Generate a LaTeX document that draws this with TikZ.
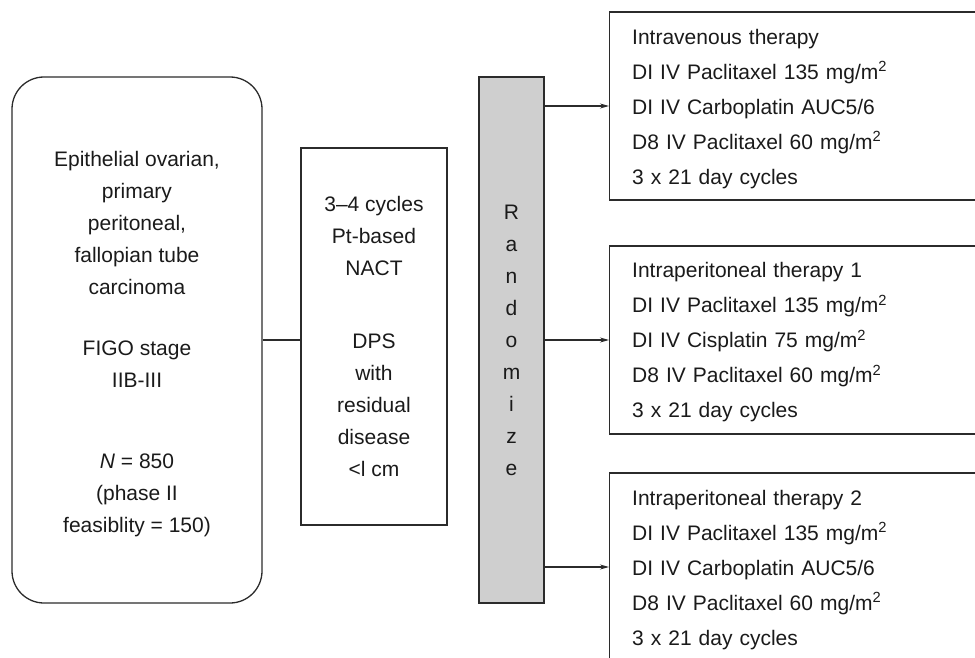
\documentclass[tikz,border=0pt]{standalone}
\usepackage{fontspec}
\setmainfont{Liberation Sans}
\usetikzlibrary{arrows.meta}
\definecolor{linec}{HTML}{2B2B2B}
\definecolor{barfill}{HTML}{CFCFCF}
\definecolor{textc}{HTML}{1A1A1A}
\begin{document}
\begin{tikzpicture}[x=1pt,y=-1pt,
  box/.style={draw=linec, line width=1.3pt, inner sep=0pt, text=textc},
  ctxt/.style={font=\fontsize{21}{32}\selectfont, align=center, text=textc},
  rbox/.style={box, minimum width=400pt, minimum height=188pt},
  rtxt/.style={font=\fontsize{21}{35}\selectfont, align=left, text width=360pt, inner sep=0pt, text=textc},
  arr/.style={draw=linec, line width=1.1pt, -{Stealth[length=9pt,width=5pt]}},
  con/.style={draw=linec, line width=1.1pt}]
\clip (0,0) rectangle (975,658);
\node[box, rounded corners=32pt, minimum width=250pt, minimum height=526pt] (pop) at (137,340) {};
\node[ctxt] (poptxt) at ([yshift=-4.5pt]pop.center)
  {Epithelial ovarian,\\primary\\peritoneal,\\fallopian tube\\carcinoma\\[29pt]FIGO stage\\IIB-III\\[49pt]\textit{N} = 850\\(phase II\\feasiblity = 150)};
\node[box, ctxt, minimum width=146pt, minimum height=377pt] (nact) at (374,336.5)
  {3--4 cycles\\Pt-based\\NACT\\[41pt]DPS\\with\\residual\\disease\\<l cm};
\node[box, ctxt, fill=barfill, minimum width=65pt, minimum height=526pt] (rand) at (511.5,340)
  {R\\a\\n\\d\\o\\m\\i\\z\\e};
\node[rbox, anchor=west] (iv) at (609,106) {};
\node[rtxt, anchor=west] (ivtxt) at ([xshift=23pt,yshift=-3pt]iv.west)
  {Intravenous therapy\\DI IV Paclitaxel 135 mg/m\textsuperscript{2}\\DI IV Carboplatin AUC5/6\\D8 IV Paclitaxel 60 mg/m\textsuperscript{2}\\3 x 21 day cycles};
\node[rbox, anchor=west] (ip1) at (609,340) {};
\node[rtxt, anchor=west] (ip1txt) at ([xshift=23pt,yshift=-2.5pt]ip1.west)
  {Intraperitoneal therapy 1\\DI IV Paclitaxel 135 mg/m\textsuperscript{2}\\DI IV Cisplatin 75 mg/m\textsuperscript{2}\\D8 IV Paclitaxel 60 mg/m\textsuperscript{2}\\3 x 21 day cycles};
\node[rbox, anchor=west] (ip2) at (609,567) {};
\node[rtxt, anchor=west] (ip2txt) at ([xshift=23pt,yshift=-3pt]ip2.west)
  {Intraperitoneal therapy 2\\DI IV Paclitaxel 135 mg/m\textsuperscript{2}\\DI IV Carboplatin AUC5/6\\D8 IV Paclitaxel 60 mg/m\textsuperscript{2}\\3 x 21 day cycles};
\draw[con] (pop.east) -- (pop.east -| nact.west);
\draw[arr] (rand.east |- iv.west) -- (iv.west);
\draw[arr] (rand.east |- ip1.west) -- (ip1.west);
\draw[arr] (rand.east |- ip2.west) -- (ip2.west);
\end{tikzpicture}
\end{document}
